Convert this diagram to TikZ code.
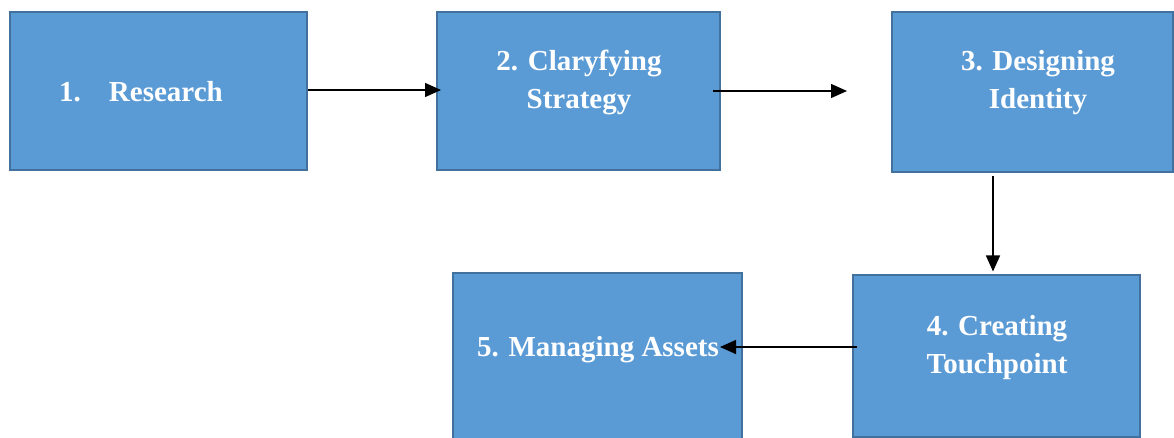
\documentclass[tikz,border=0pt]{standalone}
\usepackage{fontspec}
\setmainfont{Liberation Serif}
\usetikzlibrary{arrows.meta}
\definecolor{boxfill}{HTML}{5B9BD5}
\definecolor{boxline}{HTML}{41719C}
\begin{document}
\begin{tikzpicture}[x=0.5pt,y=-0.5pt,
  stagebox/.style={draw=boxline, fill=boxfill, line width=1pt, inner sep=0pt},
  stagetext/.style={text=white, font=\fontsize{14.5}{19}\selectfont\bfseries, align=center, anchor=base, inner sep=0pt},
  flow/.style={line width=0.7pt, -{Triangle[length=8pt,width=7pt]}}]
\useasboundingbox (0,0) rectangle (1174,438);
\clip (0,0) rectangle (1174,438);
\node[stagebox, minimum width=148.5pt, minimum height=79pt] (b1) at (158.5,91) {};
\node[stagebox, minimum width=141.5pt, minimum height=79pt] (b2) at (578.5,91) {};
\node[stagebox, minimum width=140.5pt, minimum height=80pt] (b3) at (1032.5,92) {};
\node[stagebox, minimum width=143.5pt, minimum height=81pt] (b4) at (996.5,356.5) {};
\node[stagebox, minimum width=144.5pt, minimum height=85pt] (b5) at (597.5,358) {};
\node[stagetext] (t1) at (141,101.5) {1.\hspace{14pt}Research};
\node[stagetext] (t2) at (579,109) {2. Claryfying\\Strategy};
\node[stagetext] (t3) at (1038,109) {3. Designing\\Identity};
\node[stagetext] (t4) at (997,374) {4. Creating\\Touchpoint};
\node[stagetext] (t5) at (598,357) {5. Managing Assets};
\draw[flow] ([yshift=0.5pt]b1.east) -- ([xshift=2.5pt,yshift=0.5pt]b2.west);
\draw[flow] ([xshift=-4pt]b2.east) -- ([xshift=-22pt]b3.west |- b2.east);
\draw[flow] ([xshift=-1.75pt,yshift=-1.5pt]b4.north |- b3.south) -- ([xshift=-1.75pt,yshift=1.5pt]b4.north);
\draw[flow] ([xshift=2.5pt]b4.west |- 0,347) -- (720,347);
\end{tikzpicture}
\end{document}
